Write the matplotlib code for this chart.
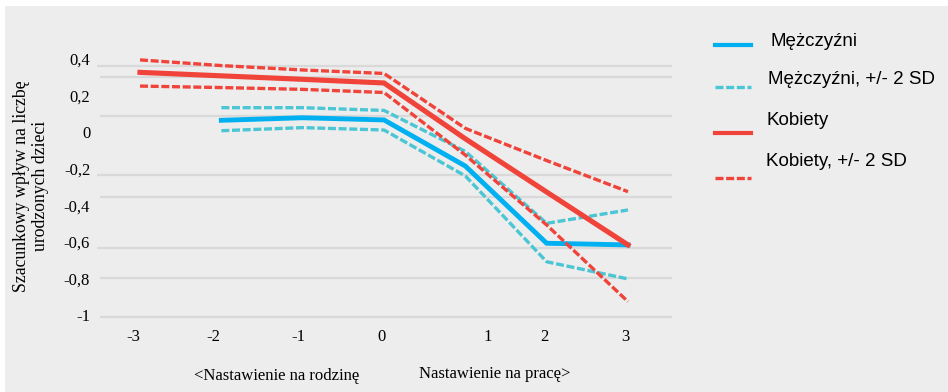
import numpy as np
import matplotlib
matplotlib.use("Agg")
import matplotlib.pyplot as plt
from matplotlib.patches import Rectangle
from matplotlib.lines import Line2D

# ---- data -------------------------------------------------------------
x_values = [-3, -2, -1, 0, 1, 2, 3]
men = [np.nan, 0.065, 0.079, 0.067, -0.185, -0.607, -0.616]
men_upper = [np.nan, 0.134, 0.134, 0.119, -0.105, -0.498, -0.425]
men_lower = [np.nan, 0.008, 0.025, 0.012, -0.239, -0.708, -0.802]
women = [0.327, 0.308, 0.289, 0.269, -0.036, -0.327, -0.616]
women_upper = [0.395, 0.364, 0.340, 0.321, 0.021, -0.155, -0.325]
women_lower = [0.252, 0.244, 0.234, 0.217, -0.125, -0.507, -0.926]

y_ticks = [0.4, 0.2, 0.0, -0.2, -0.4, -0.6, -0.8, -1.0]
y_tick_labels = ["0,4", "0,2", "0", "-0,2", "-0,4", "-0,6", "-0,8", "-1"]
x_tick_labels = ["-3", "-2", "-1", "0", "1", "2", "3"]

legend_labels = ["Mężczyźni", "Mężczyźni, +/- 2 SD", "Kobiety", "Kobiety, +/- 2 SD"]

# ---- layout -----------------------------------------------------------
x_tick_pos = [-3.086, -2.104, -1.058, -0.025, 1.27, 1.975, 2.97]
grid_a = [0.301, 0.088, -0.354, -0.797, -1.010]
grid_b = [0.362, -0.234, -0.633]

BLUE = "#00B0F0"
TEAL = "#4BC6D4"
RED = "#F0433A"
BG = "#EDEDED"
GRID = "#D9D9D9"
SERIF = "Liberation Serif"
SANS = "Liberation Sans"

W, H = 948, 392
fig = plt.figure(figsize=(W / 100, H / 100), dpi=100, facecolor="white")
fig.patches.append(Rectangle((5 / W, 0), 1, (H - 6) / H, transform=fig.transFigure,
                             facecolor=BG, edgecolor="none", zorder=-5))

ax = fig.add_axes([93 / W, (H - 330) / H, 579 / W, 300 / H])
ax.set_facecolor("none")
for s in ax.spines.values():
    s.set_visible(False)
ax.set_xlim(-3.578, 3.541)
ax.set_ylim(-1.081, 0.5585)

# grid lines
ax.hlines(grid_a, -3.49, 3.54, colors=GRID, linewidth=1.6, zorder=1, clip_on=False)
ax.hlines(grid_b, -3.53, 3.54, colors=GRID, linewidth=1.6, zorder=1, clip_on=False)

dash = (2.4, 0.8)
ax.plot(x_values, men_upper, color=TEAL, lw=2.4, dashes=dash, zorder=3)
ax.plot(x_values, men_lower, color=TEAL, lw=2.4, dashes=dash, zorder=3)
ax.plot(x_values, men, color=BLUE, lw=3.5, zorder=4, solid_joinstyle="miter")
ax.plot(x_values, women_upper, color=RED, lw=2.4, dashes=dash, zorder=5)
ax.plot(x_values, women_lower, color=RED, lw=2.4, dashes=dash, zorder=5)
ax.plot(x_values, women, color=RED, lw=3.7, zorder=6, solid_joinstyle="miter")

ax.set_yticks(y_ticks)
ax.set_yticklabels(y_tick_labels, fontfamily=SERIF, fontsize=12)
ax.set_xticks(x_tick_pos)
ax.set_xticklabels(x_tick_labels, fontfamily=SERIF, fontsize=12)
ax.tick_params(axis="y", length=0, pad=2)
ax.tick_params(axis="x", length=0, pad=-1)

ax.set_ylabel("Szacunkowy wpływ na liczbę\nurodzonych dzieci", fontfamily=SERIF,
              fontsize=12.8, linespacing=1.1, va="center")
ax.yaxis.set_label_coords((31 - 93) / 579, (330 - 186) / 300)

fig.text(277 / W, 1 - 376 / H, "<Nastawienie na rodzinę", fontfamily=SERIF,
         fontsize=12, ha="center", va="center")
fig.text(495 / W, 1 - 374 / H, "Nastawienie na pracę>", fontfamily=SERIF,
         fontsize=12, ha="center", va="center")

# legend
leg_styles = [dict(color=BLUE, lw=3.0), dict(color=TEAL, lw=2.4, dashes=dash),
              dict(color=RED, lw=3.0), dict(color=RED, lw=2.4, dashes=dash)]
leg_handle_y = [45, 86.7, 133.3, 178.3]
leg_text_y = [41.7, 80, 120.7, 162]
leg_text_x = [770, 768, 766, 766.5]
for label, st, hy, ty, tx in zip(legend_labels, leg_styles, leg_handle_y, leg_text_y, leg_text_x):
    fig.lines.append(Line2D([715 / W, 751 / W], [1 - hy / H, 1 - hy / H],
                            transform=fig.transFigure, **st))
    fig.text(tx / W, 1 - ty / H, label, fontfamily=SANS, fontsize=13.5,
             ha="left", va="center")

fig.savefig("out.png", dpi=100, facecolor="white")
